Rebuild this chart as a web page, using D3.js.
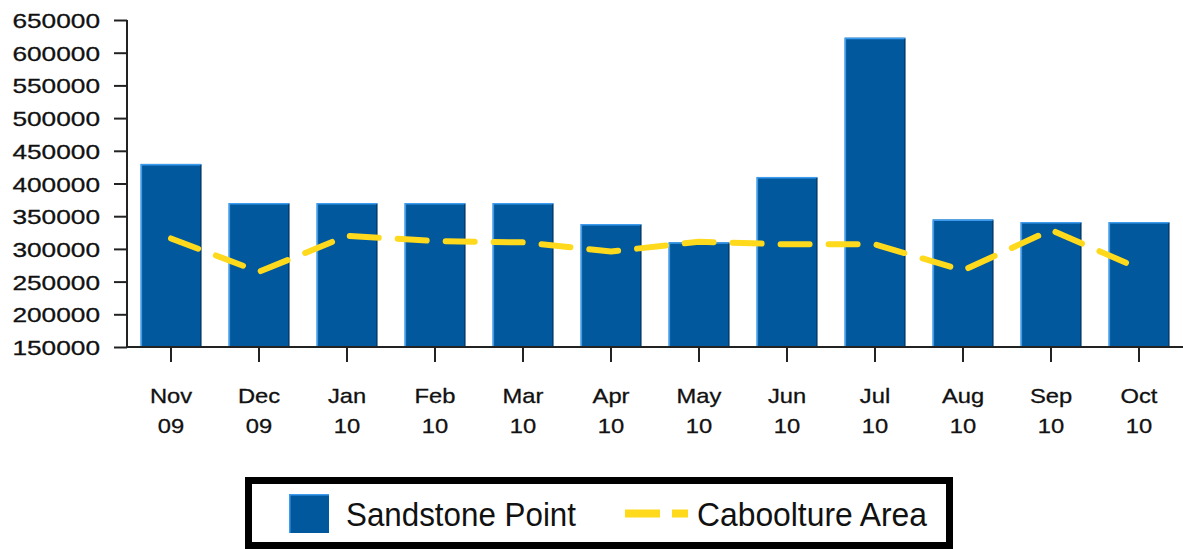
<!DOCTYPE html>
<html>
<head>
<meta charset="utf-8">
<script src="https://cdn.jsdelivr.net/npm/d3@7"></script>
<style>
  html, body { margin: 0; padding: 0; background: #ffffff; }
  svg { display: block; }
  text { font-family: "Liberation Sans", Arial, sans-serif; fill: #111; }
</style>
</head>
<body>
<svg id="chart" width="1183" height="549"></svg>
<script>
// ---- data ----
const months = ["Nov", "Dec", "Jan", "Feb", "Mar", "Apr", "May", "Jun", "Jul", "Aug", "Sep", "Oct"];
const years  = ["09", "09", "10", "10", "10", "10", "10", "10", "10", "10", "10", "10"];
const sandstonePoint = [430000, 370000, 370000, 370000, 370000, 338000, 310000, 410000, 623000, 345000, 341000, 341000];
const cabooltureArea = [316000, 265000, 320000, 312000, 310000, 296000, 311000, 307000, 307000, 267000, 329000, 270000];
const yTicks = [150000, 200000, 250000, 300000, 350000, 400000, 450000, 500000, 550000, 600000, 650000];
const seriesNames = ["Sandstone Point", "Caboolture Area"];

(function() {
const barColor = "#02589c";
const lineColor = "#ffd91c";

const svg = d3.select("#chart");
const pL = 127, pR = 1183, pT = 20, pB = 347;

const x = d3.scaleBand().domain(months.map((m, i) => i)).range([pL, pR]).paddingInner(0.31).paddingOuter(0.155);
const y = d3.scaleLinear().domain([150000, 650000]).range([pB, pT]);

// bars
const bars = svg.append("g");
bars.selectAll("rect.bar").data(sandstonePoint).join("rect")
  .attr("class", "bar")
  .attr("x", (d, i) => x(i))
  .attr("y", d => y(d))
  .attr("width", x.bandwidth())
  .attr("height", d => pB - y(d))
  .attr("fill", barColor);
bars.selectAll("path.hi").data(sandstonePoint).join("path")
  .attr("class", "hi")
  .attr("d", (d, i) => `M${x(i) + 0.75},${pB} V${y(d) + 0.75} H${x(i) + x.bandwidth()}`)
  .attr("fill", "none").attr("stroke", "#3d9cf0").attr("stroke-width", 1.5);
bars.selectAll("path.lo").data(sandstonePoint).join("path")
  .attr("class", "lo")
  .attr("d", (d, i) => `M${x(i) + x.bandwidth() - 0.5},${y(d) + 1} V${pB}`)
  .attr("fill", "none").attr("stroke", "#0d2f55").attr("stroke-width", 1);

// line
const line = d3.line().x((d, i) => x(i) + x.bandwidth() / 2).y(d => y(d));
svg.append("path")
  .datum(cabooltureArea)
  .attr("d", line)
  .attr("fill", "none")
  .attr("stroke", lineColor)
  .attr("stroke-width", 6)
  .attr("stroke-linecap", "round")
  .attr("stroke-linejoin", "round")
  .attr("stroke-dasharray", "29,19");

// y axis
const yAxis = svg.append("g").attr("transform", `translate(${pL},0)`)
  .call(d3.axisLeft(y).tickValues(yTicks).tickFormat(d3.format("d")).tickSize(13).tickPadding(14));
yAxis.select(".domain").attr("d", `M0,${pT}V${pB}`).attr("stroke", "#222").attr("stroke-width", 2);
yAxis.selectAll(".tick line").attr("stroke", "#222").attr("stroke-width", 2);
yAxis.selectAll(".tick text")
  .style("font-family", '"Liberation Sans", Arial, sans-serif')
  .attr("font-size", 21).attr("fill", "#111").attr("stroke", "#111").attr("stroke-width", 0.3)
  .attr("x", -27).attr("dy", "0.36em");

// x axis
const xAxis = svg.append("g").attr("transform", `translate(0,${pB})`)
  .call(d3.axisBottom(x).tickSize(15).tickFormat(() => ""));
xAxis.select(".domain").attr("d", `M${pL},0H${pR}`).attr("stroke", "#222").attr("stroke-width", 2);
xAxis.selectAll(".tick line").attr("stroke", "#222").attr("stroke-width", 2);
xAxis.selectAll(".tick text").each(function(d) {
  const t = d3.select(this).text(null).attr("y", 0).attr("dy", null)
    .style("font-family", '"Liberation Sans", Arial, sans-serif')
    .attr("font-size", 21).attr("fill", "#111").attr("stroke", "#111").attr("stroke-width", 0.3);
  t.append("tspan").attr("x", 0).attr("y", 402.5 - pB).text(months[d]);
  t.append("tspan").attr("x", 0).attr("y", 432.5 - pB).text(years[d]);
});

function stretch(sel, factor) {
  sel.each(function() {
    const w = this.getComputedTextLength();
    d3.select(this).attr("textLength", w * factor).attr("lengthAdjust", "spacingAndGlyphs");
  });
}
stretch(yAxis.selectAll(".tick text"), 1.25);
stretch(xAxis.selectAll(".tick text tspan"), 1.13);

// legend
const lg = svg.append("g");
lg.append("rect").attr("x", 248.5).attr("y", 480.5).attr("width", 701).attr("height", 65)
  .attr("fill", "#fff").attr("stroke", "#000").attr("stroke-width", 7);
lg.append("rect").attr("x", 289).attr("y", 494).attr("width", 40).attr("height", 39).attr("fill", barColor);
lg.append("path").attr("d", "M289.75,533V494.75H329").attr("fill", "none").attr("stroke", "#3d9cf0").attr("stroke-width", 1.5);
const t1 = lg.append("text").attr("x", 346).attr("y", 526).attr("font-size", 33).text(seriesNames[0]);
lg.append("line").attr("x1", 625).attr("x2", 688).attr("y1", 513.5).attr("y2", 513.5)
  .attr("stroke", lineColor).attr("stroke-width", 8).attr("stroke-dasharray", "35,12");
const t2 = lg.append("text").attr("x", 697).attr("y", 526).attr("font-size", 33).text(seriesNames[1]);
t1.attr("textLength", 230).attr("lengthAdjust", "spacingAndGlyphs");
t2.attr("textLength", 230).attr("lengthAdjust", "spacingAndGlyphs");
})();
</script>
</body>
</html>
